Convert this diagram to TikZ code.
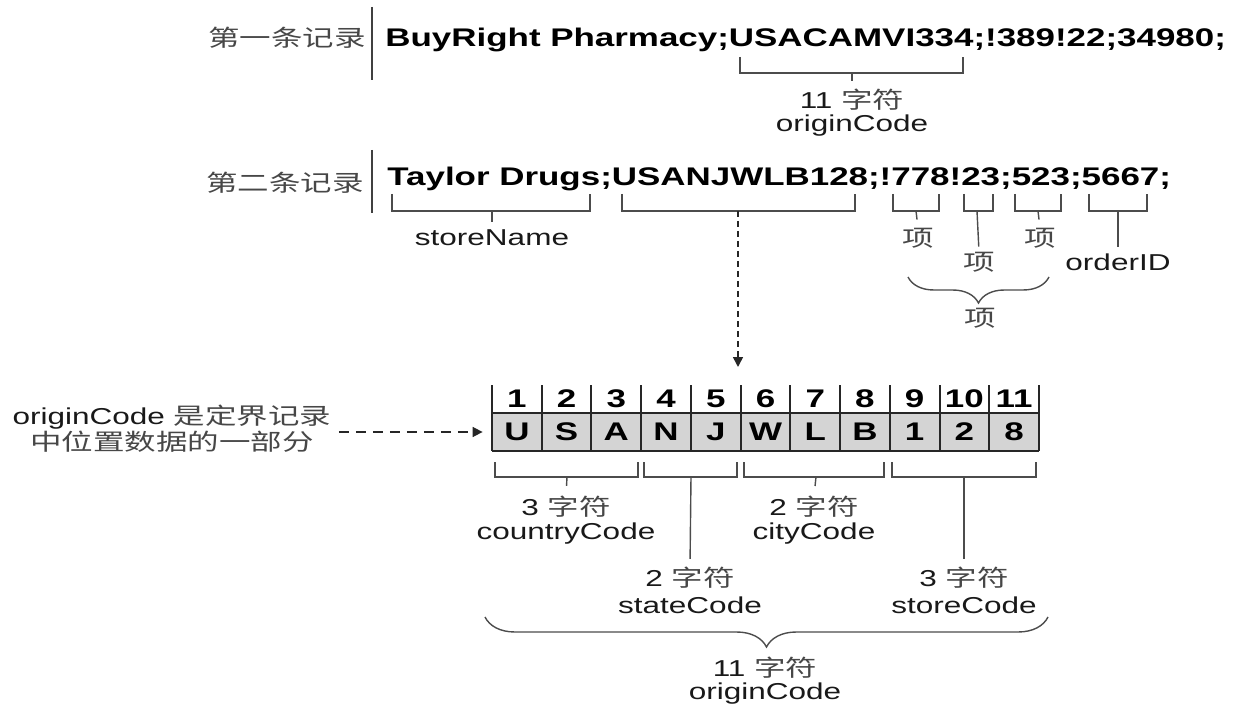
\documentclass[tikz,border=0pt]{standalone}
\usepackage{fontspec}
\setmainfont{Liberation Sans}[FakeStretch=1.37]
\newfontfamily\cjk{Noto Sans CJK SC}[FakeStretch=1.37]
\newcommand\zhc[1]{{\cjk\color{black!72}#1}}
\usetikzlibrary{arrows.meta,decorations.pathreplacing}
\begin{document}
\begin{tikzpicture}[x=0.5pt,y=-0.5pt,
  rec/.style={font=\fontsize{12.75}{15}\selectfont\bfseries, inner sep=0, anchor=base west},
  zh/.style={font=\fontsize{11.5}{13}\selectfont\cjk, text=black!72, inner sep=0},
  lbl/.style={font=\fontsize{11.5}{13.25}\selectfont, align=center, inner sep=0, text=black!90},
  brk/.style={draw=black!70, line width=0.7pt},
  tick/.style={draw=black!70, line width=0.7pt, shorten >=4pt},
  bar/.style={draw=black!75, line width=1pt},
  gridline/.style={draw=black!85, line width=1pt},
  cell/.style={minimum width=24.86pt, inner sep=0, font=\fontsize{12.75}{15}\selectfont\bfseries},
  brc/.style={draw=black!70, line width=0.7pt, decorate, decoration={brace, mirror, amplitude=#1}},
  dshv/.style={draw=black!85, line width=0.8pt, dash pattern=on 3pt off 2pt, -{Triangle[length=5pt,width=5pt]}},
  dshh/.style={draw=black!85, line width=0.8pt, dash pattern=on 5pt off 3.5pt, -{Triangle[length=5pt,width=5pt]}},
]
\useasboundingbox (0,0) rectangle (1244,706);

% ---------- first record ----------
\node[zh] (lab1) at (287,38) {第一条记录};
\draw[bar] (372,7) -- (372,80);
\node[rec] (rec1) at (385,47) {BuyRight Pharmacy;USACAMVI334;!389!22;34980;};
\foreach \a/\b/\m/\t/\u/\n in {740/963/852/57/73/b1}{
  \draw[brk] (\a,\t) |- (\b,\u) -- (\b,\t);
  \coordinate (\n) at (\m,\u);
}
\node[lbl] (t1a) at (852,100) {11 \zhc{字符}};
\node[lbl] (t1b) at (852,126) {originCode};
\draw[tick] (b1) -- (t1a.north);

% ---------- second record ----------
\node[zh] (lab2) at (285,183) {第二条记录};
\draw[bar] (372,150) -- (372,213);
\node[rec] (rec2) at (387,185) {Taylor Drugs;USANJWLB128;!778!23;523;5667;};
\foreach \a/\b/\m/\n in {392/590/492/s1, 622/855/738/s2, 893/939/916/s3, 964/993/977/s4, 1015/1061/1038/s5, 1089/1147/1118/s6}{
  \draw[brk] (\a,194) |- (\b,211) -- (\b,194);
  \coordinate (\n) at (\m,211);
}
\node[lbl] (sname) at (492,238) {storeName};
\node[zh] (it1) at (918,238) {项};
\node[zh] (it2) at (979,262) {项};
\node[zh] (it3) at (1040,238) {项};
\node[lbl] (oid) at (1118,262) {orderID};
\draw[tick] (s1) -- (sname.north);
\draw[tick] (s3) -- (it1.north);
\draw[tick, shorten >=2.5pt] (s4) -- (it2.north);
\draw[tick] (s5) -- (it3.north);
\draw[tick, shorten >=3pt] (s6) -- (oid.north);
\draw[brc=13pt] (908,277) -- (1049,277);
\node[zh] (it4) at (980,318) {项};

% dashed arrow down to the grid
\coordinate (tipv) at (738,367);
\draw[dshv] (s2) -- (tipv);

% ---------- grid ----------
\fill[black!17] (492,413) rectangle (1039,451);
\foreach \i in {0,...,11}
  \draw[gridline] ({492+\i*49.727},385) -- ({492+\i*49.727},451);
\draw[gridline] (492,413) -- (1039,413);
\draw[gridline] (492,451) -- (1039,451);
\foreach \t [count=\i] in {U,S,A,N,J,W,L,B,1,2,8}
  \node[cell, minimum height=19pt] (c\i) at ({492+(\i-0.5)*49.727},432) {\t};
\foreach \i in {1,...,11}
  \node[cell, minimum height=14pt] (n\i) at ({492+(\i-0.5)*49.727},399) {\i};

% left note
\node[lbl, font=\fontsize{11.5}{11}\selectfont] (note) at (172,429)
  {originCode \zhc{是定界记录}\\\zhc{中位置数据的一部分}};
\draw[dshh, shorten <=3.5pt, shorten >=4.5pt] (note.east |- c1.west) -- (c1.west);

% ---------- sub fields ----------
\foreach \a/\b/\m/\n in {495/638/567/g1, 644/737/691/g2, 744/884/816/g3, 892/1036/964/g4}{
  \draw[brk] (\a,462) |- (\b,477) -- (\b,462);
  \coordinate (\n) at (\m,477);
}
\node[lbl] (cc1) at (566,507) {3 \zhc{字符}};
\node[lbl] (cc2) at (566,534) {countryCode};
\node[lbl] (st1) at (690,578) {2 \zhc{字符}};
\node[lbl] (st2) at (690,605) {stateCode};
\node[lbl] (ci1) at (814,507) {2 \zhc{字符}};
\node[lbl] (ci2) at (814,534) {cityCode};
\node[lbl] (so1) at (964,578) {3 \zhc{字符}};
\node[lbl] (so2) at (964,605) {storeCode};
\draw[tick, shorten >=5pt] (g1) -- (cc1.north);
\draw[tick] (g2) -- (st1.north);
\draw[tick, shorten >=5pt] (g3) -- (ci1.north);
\draw[tick] (g4) -- (so1.north);

\draw[brc=15pt] (485,617) -- (1048,617);
\node[lbl] (o1) at (765,668) {11 \zhc{字符}};
\node[lbl] (o2) at (765,694) {originCode};
\end{tikzpicture}
\end{document}
